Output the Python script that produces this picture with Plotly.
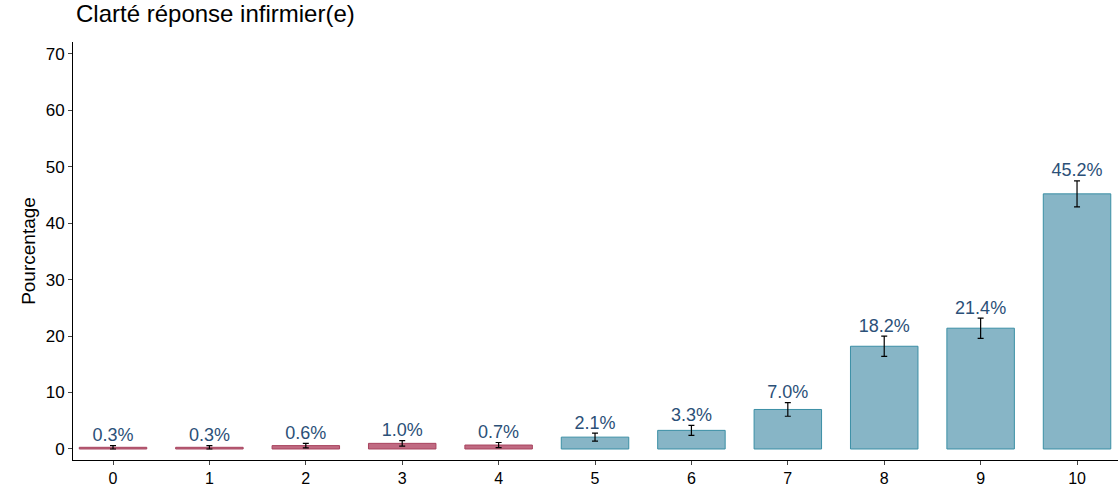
import plotly.graph_objects as go

categories = ["0", "1", "2", "3", "4", "5", "6", "7", "8", "9", "10"]
values = [0.3, 0.3, 0.6, 1.0, 0.7, 2.1, 3.3, 7.0, 18.2, 21.4, 45.2]
errors = [0.3, 0.3, 0.4, 0.5, 0.45, 0.7, 0.9, 1.2, 1.8, 1.8, 2.3]
labels = [f"{v:.1f}%" for v in values]

fill = ["#c06a82" if i < 5 else "#87b5c6" for i in range(len(values))]
edge = ["#a8445f" if i < 5 else "#3b8fa5" for i in range(len(values))]

fig = go.Figure()
fig.add_trace(go.Bar(
    x=categories, y=values, width=0.7,
    marker=dict(color=fill, line=dict(color=edge, width=1)),
    error_y=dict(type="data", array=errors, color="black", thickness=1.2, width=3),
    hoverinfo="x+y",
))
fig.add_trace(go.Scatter(
    x=categories, y=[v + e for v, e in zip(values, errors)],
    mode="text", text=labels, textposition="top center",
    textfont=dict(color="#2b5078", size=18),
    hoverinfo="skip",
))

fig.update_layout(
    autosize=True,
    margin=dict(l=73, r=0, t=42, b=27, autoexpand=False),
    plot_bgcolor="white", paper_bgcolor="white",
    showlegend=False,
    font=dict(family="Liberation Sans, Arial", size=16, color="black"),
    title=dict(text="Clarté réponse infirmier(e)", x=0.068, xanchor="left",
               y=0.99, yanchor="top", font=dict(size=24)),
)
fig.update_xaxes(showline=True, linecolor="black", ticks="outside", ticklen=4,
                 showgrid=False, range=[-0.415, 10.425], automargin=False)
fig.update_yaxes(title_text="Pourcentage", title_standoff=5, showline=True, linecolor="black",
                 ticks="outside", ticklen=4, showgrid=False, zeroline=False, automargin=False,
                 range=[-1.95, 72.1], tickvals=[0, 10, 20, 30, 40, 50, 60, 70],
                 tickfont=dict(size=17))

fig.write_html("out.html", default_width="100vw", default_height="100vh",
               config={"displayModeBar": False},
               post_script="document.body.style.margin='0';")
